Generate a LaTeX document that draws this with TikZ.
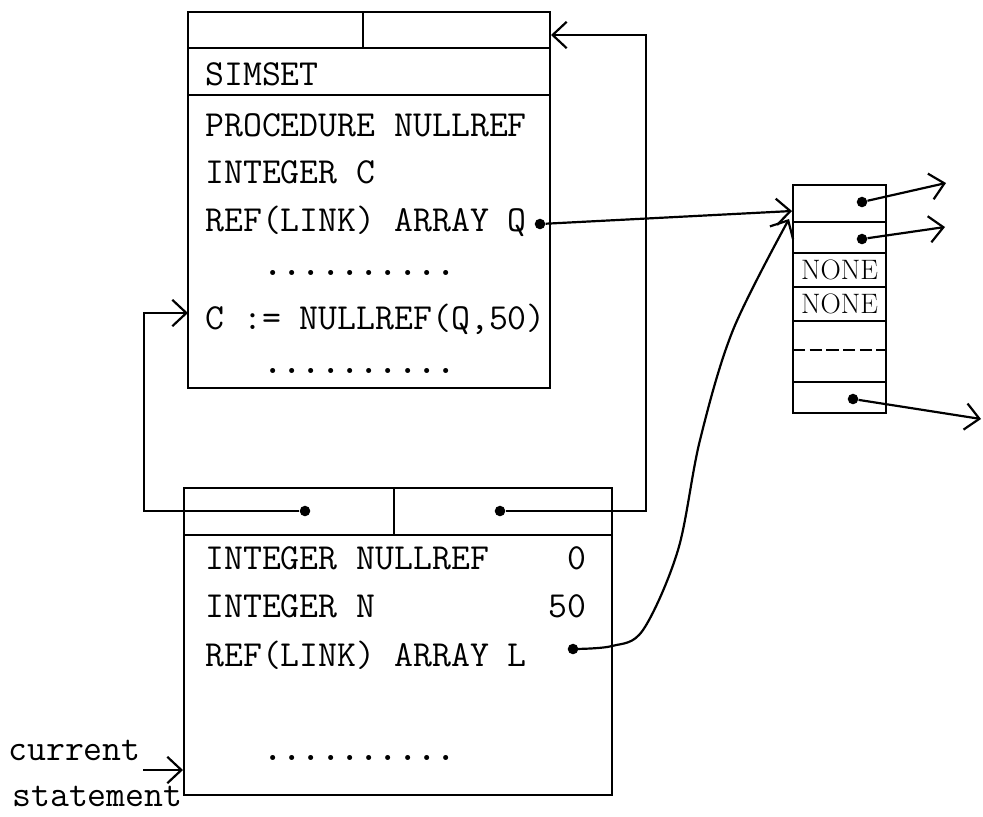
\documentclass[tikz,border=0pt]{standalone}
\usepackage{fontspec}
\usetikzlibrary{arrows.meta}
\begin{document}
\begin{tikzpicture}[x=0.02cm,y=-0.02cm,
  box/.style={line width=1.6pt},
  conn/.style={line width=1.25pt,-{Straight Barb[length=8pt,width=15pt,line width=1.25pt]}},
  dotn/.style={circle,fill,inner sep=0pt,minimum size=6pt},
  code/.style={font=\ttfamily\fontsize{20.9}{24}\selectfont,inner sep=0pt,anchor=base west},
  coder/.style={code,anchor=base east},
  dotrow/.style={code,font=\ttfamily\bfseries\fontsize{20.9}{24}\selectfont},
  nonetxt/.style={font=\fontsize{16}{18}\selectfont,inner sep=0pt}]
\useasboundingbox (0,0) rectangle (983,816);

% ---------- top box (SIMSET) ----------
\draw[box] (188,12) rectangle (550,388);
\draw[box] (188,48) -- (550,48);
\draw[box] (363,12) -- (363,48);
\draw[box] (188,95) -- (550,95);
\node[code] (simset) at (205,85) {SIMSET};
\node[code] (proc) at (205,136) {PROCEDURE NULLREF};
\node[code] (intc) at (205,183) {INTEGER C};
\node[code] (refq) at (205,231) {REF(LINK) ARRAY Q};
\node[dotrow] (dots1) at (205,275) {\ \ \ ..........};
\node[code] (cline) at (205,329) {C := NULLREF(Q,50)};
\node[dotrow] (dots2) at (205,373) {\ \ \ ..........};
\node[dotn] (qd) at (540,224) {};
\coordinate (cin) at (188,313);
\coordinate (topin) at (551,35);

% ---------- bottom box ----------
\draw[box] (184,488) rectangle (612,795);
\draw[box] (184,535) -- (612,535);
\draw[box] (394,488) -- (394,535);
\node[code] (intn) at (205,569) {INTEGER NULLREF};
\node[coder] (v0) at (587,569) {0};
\node[code] (intN) at (205,617) {INTEGER N};
\node[coder] (v50) at (587,617) {50};
\node[code] (refl) at (205,666) {REF(LINK) ARRAY L};
\node[dotrow] (dots3) at (205,760) {\ \ \ ..........};
\node[dotn] (bld) at (305,511) {};
\node[dotn] (brd) at (500,511) {};
\node[dotn] (ld) at (573,649) {};
\coordinate (curin) at (183,770);

% ---------- array ----------
\draw[box] (793,185) rectangle (886,413);
\foreach \yy in {222,253,287,321,382} \draw[box] (793,\yy) -- (886,\yy);
\draw[box,dash pattern=on 7pt off 2.5pt] (793,350) -- (886,350);
\node[nonetxt] (n1) at (839.5,270) {NONE};
\node[nonetxt] (n2) at (839.5,304) {NONE};
\node[dotn] (a1d) at (862,202) {};
\node[dotn] (a2d) at (862,239) {};
\node[dotn] (a7d) at (853,399) {};
\coordinate (a1t) at (946,183);
\coordinate (a2t) at (945,227);
\coordinate (a7t) at (981,419);
\coordinate (arrin1) at (792,211);
\coordinate (arrin2) at (789,219);

% ---------- labels ----------
\node[code] (curr) at (8,760) {current};
\node[code] (stmt) at (12,806) {statement};
\coordinate (curst) at (143,770);

% ---------- connectors ----------
\coordinate (loopL) at (144,400);
\coordinate (loopR) at (646,200);
\draw[conn] (bld) -| (loopL) |- (cin);
\draw[conn] (brd) -| (loopR) |- (topin);
\draw[conn] (qd) -- (arrin1);
\draw[conn] plot[smooth,tension=0.55] coordinates {(ld) (612,646) (643,630) (678,550) (700,440) (733,330) (arrin2)};
\draw[conn] (a1d) -- (a1t);
\draw[conn] (a2d) -- (a2t);
\draw[conn] (a7d) -- (a7t);
\draw[conn] (curst) -- (curin);
\end{tikzpicture}
\end{document}
